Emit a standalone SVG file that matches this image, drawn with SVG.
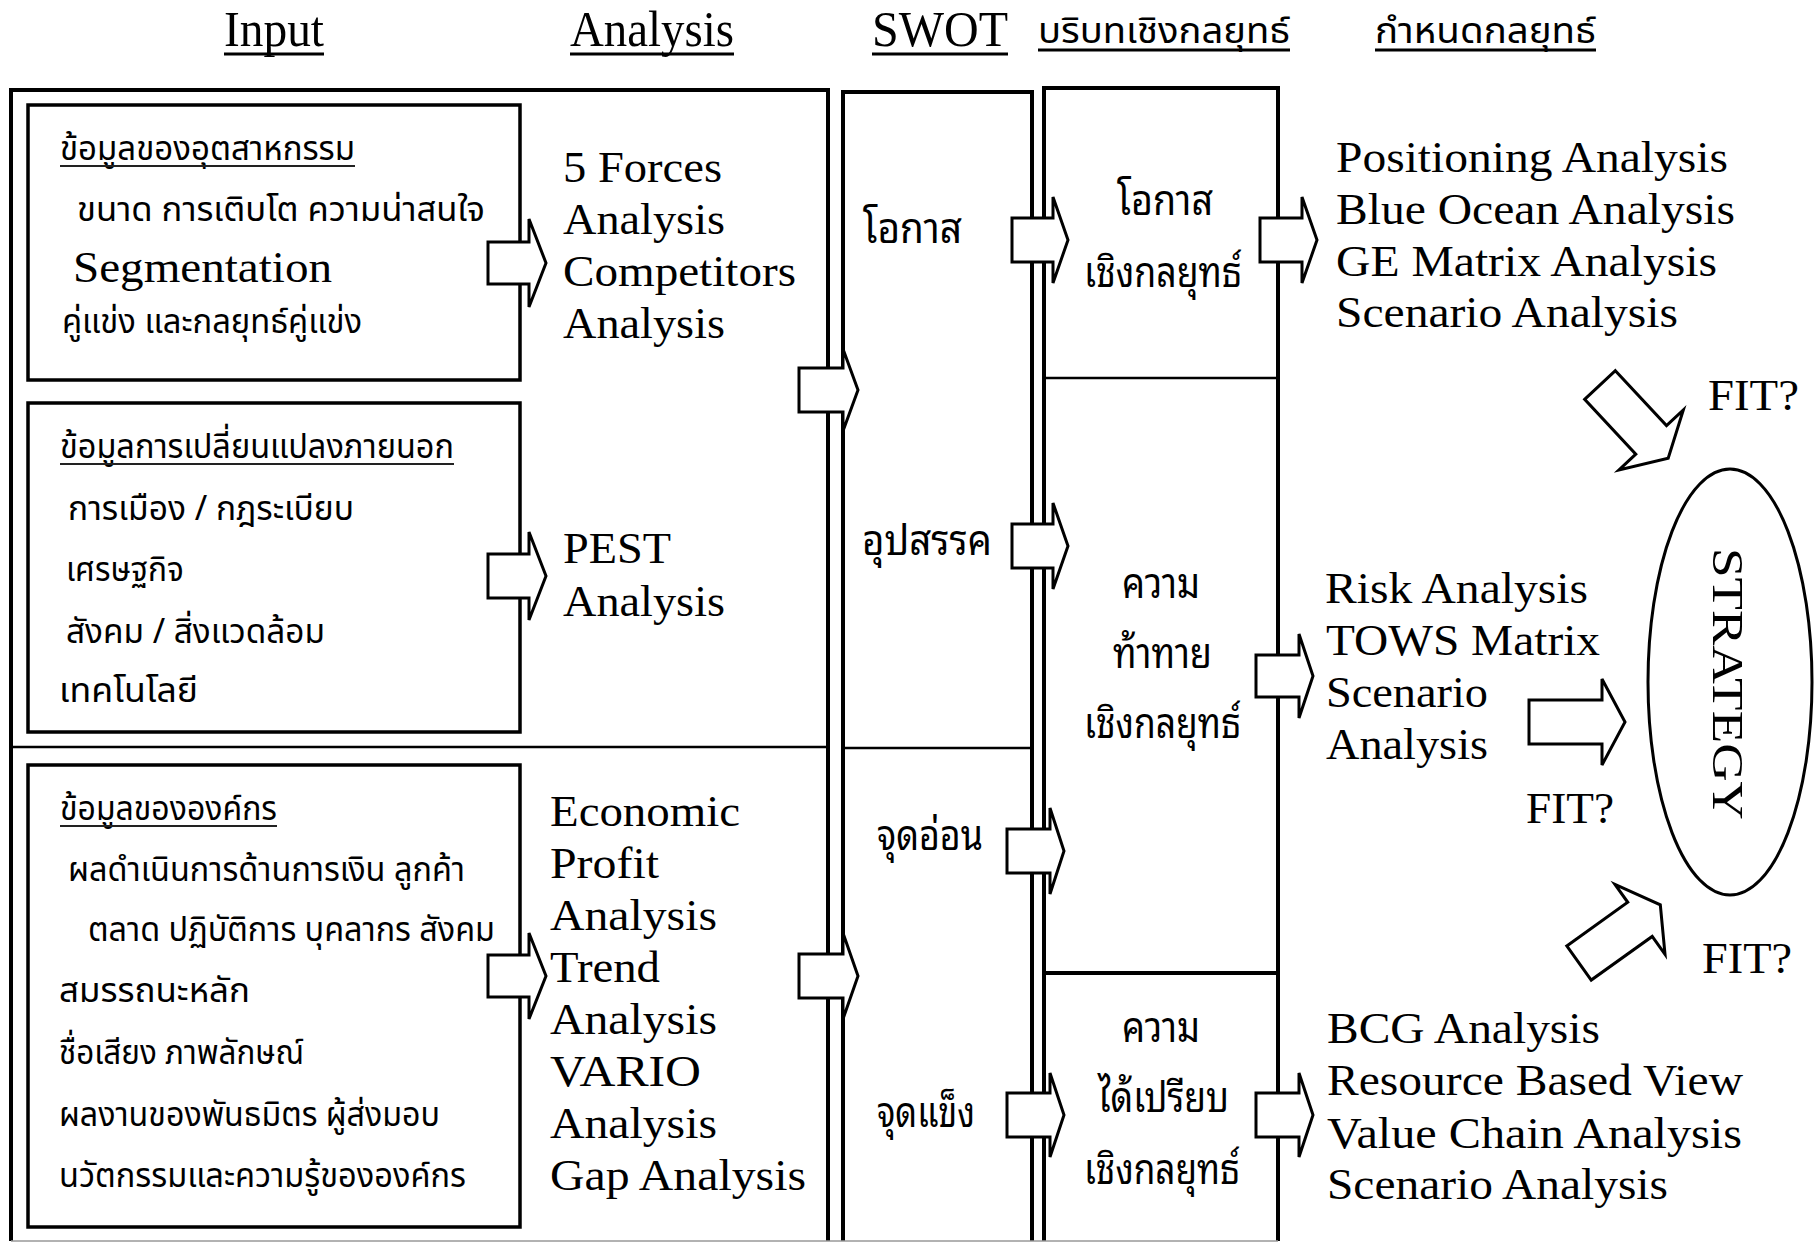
<svg xmlns="http://www.w3.org/2000/svg" width="1816" height="1243" viewBox="0 0 1816 1243">
  <style>
    .frame { fill: none; stroke: #000; stroke-width: 4; }
    .thin { fill: none; stroke: #000; stroke-width: 2.5; }
    .box { fill: none; stroke: #000; stroke-width: 3.5; }
    .arrow { fill: #fff; stroke: #000; stroke-width: 3; stroke-linejoin: miter; }
    .ul { stroke: #000; stroke-width: 3; }
    .ul2 { stroke: #222; stroke-width: 2; }
    .en { font-family: "Liberation Serif", "Times New Roman", serif; font-size: 44px; fill: #000; }
    .hd { font-family: "Liberation Serif", "Times New Roman", serif; font-size: 50px; fill: #000; }
    .th { font-family: "Noto Sans Thai", "Noto Serif Thai", "Loma", "Garuda", "Norasi", "Liberation Serif", serif; font-size: 34px; fill: #000; }
    .thh { font-family: "Noto Sans Thai", "Noto Serif Thai", "Loma", "Garuda", "Norasi", "Liberation Serif", serif; font-size: 36px; fill: #000; }
    .thl { font-family: "Noto Sans Thai Looped", "Noto Sans Thai", "Loma", "Garuda", "Liberation Serif", serif; font-size: 42px; fill: #000; }
  </style>

  <rect x="0" y="0" width="1816" height="1243" fill="#fff"/>

  <!-- column headings -->
  <g id="headings">
    <text class="hd" x="224" y="46" textLength="100" lengthAdjust="spacingAndGlyphs">Input</text>
    <line class="ul" x1="224" y1="54" x2="324" y2="54"/>
    <text class="hd" x="570" y="46" textLength="164" lengthAdjust="spacingAndGlyphs">Analysis</text>
    <line class="ul" x1="570" y1="54" x2="734" y2="54"/>
    <text class="hd" x="872" y="46" textLength="136" lengthAdjust="spacingAndGlyphs">SWOT</text>
    <line class="ul" x1="872" y1="54" x2="1008" y2="54"/>
    <text class="thh" x="1038" y="43" textLength="252" lengthAdjust="spacingAndGlyphs">บริบทเชิงกลยุทธ์</text>
    <line class="ul" x1="1038" y1="50" x2="1290" y2="50"/>
    <text class="thh" x="1375" y="43" textLength="221" lengthAdjust="spacingAndGlyphs">กำหนดกลยุทธ์</text>
    <line class="ul" x1="1375" y1="50" x2="1596" y2="50"/>
  </g>

  <!-- column frames -->
  <g id="frames">
    <path class="frame" d="M11,1241 L11,90 L828,90 L828,1241"/>
    <line class="thin" x1="11" y1="747" x2="828" y2="747"/>
    <path class="frame" d="M843,1241 L843,92 L1032,92 L1032,1241"/>
    <line class="thin" x1="843" y1="748" x2="1032" y2="748"/>
    <path class="frame" d="M1044,1241 L1044,88 L1278,88 L1278,1241"/>
    <line class="thin" x1="1044" y1="378" x2="1278" y2="378"/>
    <line class="frame" x1="1044" y1="973" x2="1278" y2="973"/>
    <line stroke="#999" stroke-width="1.5" x1="11" y1="1241" x2="1278" y2="1241"/>
  </g>

  <!-- input: industry data -->
  <g id="input-industry">
    <rect class="box" x="28" y="105" width="492" height="275"/>
    <text class="th" x="60" y="160" textLength="295" lengthAdjust="spacingAndGlyphs">ข้อมูลของอุตสาหกรรม</text>
    <line class="ul2" x1="60" y1="166" x2="355" y2="166"/>
    <text class="th" x="77" y="221" textLength="408" lengthAdjust="spacingAndGlyphs">ขนาด การเติบโต  ความน่าสนใจ</text>
    <text class="en" x="73" y="282" textLength="259" lengthAdjust="spacingAndGlyphs">Segmentation</text>
    <text class="th" x="62" y="333" textLength="300" lengthAdjust="spacingAndGlyphs">คู่แข่ง และกลยุทธ์คู่แข่ง</text>
  </g>

  <g id="analysis-industry">
    <text class="en" x="563" y="182" textLength="159" lengthAdjust="spacingAndGlyphs">5 Forces</text>
    <text class="en" x="563" y="234" textLength="162" lengthAdjust="spacingAndGlyphs">Analysis</text>
    <text class="en" x="563" y="286" textLength="233" lengthAdjust="spacingAndGlyphs">Competitors</text>
    <text class="en" x="563" y="338" textLength="162" lengthAdjust="spacingAndGlyphs">Analysis</text>
  </g>

  <!-- input: external change -->
  <g id="input-external">
    <rect class="box" x="28" y="403" width="492" height="329"/>
    <text class="th" x="60" y="458" textLength="394" lengthAdjust="spacingAndGlyphs">ข้อมูลการเปลี่ยนแปลงภายนอก</text>
    <line class="ul2" x1="60" y1="464" x2="454" y2="464"/>
    <text class="th" x="68" y="520" textLength="286" lengthAdjust="spacingAndGlyphs">การเมือง / กฎระเบียบ</text>
    <text class="th" x="66" y="581" textLength="118" lengthAdjust="spacingAndGlyphs">เศรษฐกิจ</text>
    <text class="th" x="66" y="643" textLength="259" lengthAdjust="spacingAndGlyphs">สังคม / สิ่งแวดล้อม</text>
    <text class="th" x="59" y="702" textLength="139" lengthAdjust="spacingAndGlyphs">เทคโนโลยี</text>
  </g>

  <g id="analysis-external">
    <text class="en" x="563" y="563" textLength="108" lengthAdjust="spacingAndGlyphs">PEST</text>
    <text class="en" x="563" y="616" textLength="162" lengthAdjust="spacingAndGlyphs">Analysis</text>
  </g>

  <!-- input: organisation data -->
  <g id="input-organisation">
    <rect class="box" x="28" y="765" width="492" height="462"/>
    <text class="th" x="60" y="820" textLength="217" lengthAdjust="spacingAndGlyphs">ข้อมูลขององค์กร</text>
    <line class="ul2" x1="60" y1="826" x2="277" y2="826"/>
    <text class="th" x="68" y="881" textLength="397" lengthAdjust="spacingAndGlyphs">ผลดำเนินการด้านการเงิน ลูกค้า</text>
    <text class="th" x="88" y="941" textLength="407" lengthAdjust="spacingAndGlyphs">ตลาด ปฏิบัติการ บุคลากร สังคม</text>
    <text class="th" x="59" y="1002" textLength="191" lengthAdjust="spacingAndGlyphs">สมรรถนะหลัก</text>
    <text class="th" x="59" y="1064" textLength="245" lengthAdjust="spacingAndGlyphs">ชื่อเสียง ภาพลักษณ์</text>
    <text class="th" x="59" y="1126" textLength="381" lengthAdjust="spacingAndGlyphs">ผลงานของพันธมิตร ผู้ส่งมอบ</text>
    <text class="th" x="59" y="1187" textLength="407" lengthAdjust="spacingAndGlyphs">นวัตกรรมและความรู้ขององค์กร</text>
  </g>

  <g id="analysis-organisation">
    <text class="en" x="550" y="826" textLength="190" lengthAdjust="spacingAndGlyphs">Economic</text>
    <text class="en" x="550" y="878" textLength="109" lengthAdjust="spacingAndGlyphs">Profit</text>
    <text class="en" x="550" y="930" textLength="167" lengthAdjust="spacingAndGlyphs">Analysis</text>
    <text class="en" x="550" y="982" textLength="110" lengthAdjust="spacingAndGlyphs">Trend</text>
    <text class="en" x="550" y="1034" textLength="167" lengthAdjust="spacingAndGlyphs">Analysis</text>
    <text class="en" x="550" y="1086" textLength="151" lengthAdjust="spacingAndGlyphs">VARIO</text>
    <text class="en" x="550" y="1138" textLength="167" lengthAdjust="spacingAndGlyphs">Analysis</text>
    <text class="en" x="550" y="1190" textLength="256" lengthAdjust="spacingAndGlyphs">Gap Analysis</text>
  </g>

  <!-- SWOT column -->
  <g id="swot-opportunity"><text class="thl" x="863" y="243" textLength="99" lengthAdjust="spacingAndGlyphs">โอกาส</text></g>
  <g id="swot-threat"><text class="thl" x="862" y="555" textLength="130" lengthAdjust="spacingAndGlyphs">อุปสรรค</text></g>
  <g id="swot-weakness"><text class="thl" x="877" y="850" textLength="106" lengthAdjust="spacingAndGlyphs">จุดอ่อน</text></g>
  <g id="swot-strength"><text class="thl" x="877" y="1127" textLength="98" lengthAdjust="spacingAndGlyphs">จุดแข็ง</text></g>

  <!-- strategic context column -->
  <g id="ctx-opportunity">
    <text class="thl" x="1117" y="215" textLength="96" lengthAdjust="spacingAndGlyphs">โอกาส</text>
    <text class="thl" x="1084" y="287" textLength="158" lengthAdjust="spacingAndGlyphs">เชิงกลยุทธ์</text>
  </g>
  <g id="ctx-challenge">
    <text class="thl" x="1122" y="598" textLength="78" lengthAdjust="spacingAndGlyphs">ความ</text>
    <text class="thl" x="1113" y="668" textLength="99" lengthAdjust="spacingAndGlyphs">ท้าทาย</text>
    <text class="thl" x="1084" y="738" textLength="157" lengthAdjust="spacingAndGlyphs">เชิงกลยุทธ์</text>
  </g>
  <g id="ctx-advantage">
    <text class="thl" x="1122" y="1042" textLength="78" lengthAdjust="spacingAndGlyphs">ความ</text>
    <text class="thl" x="1098" y="1112" textLength="131" lengthAdjust="spacingAndGlyphs">ได้เปรียบ</text>
    <text class="thl" x="1084" y="1184" textLength="156" lengthAdjust="spacingAndGlyphs">เชิงกลยุทธ์</text>
  </g>

  <!-- strategy tools -->
  <g id="tools-opportunity">
    <text class="en" x="1336" y="172" textLength="392" lengthAdjust="spacingAndGlyphs">Positioning Analysis</text>
    <text class="en" x="1336" y="224" textLength="399" lengthAdjust="spacingAndGlyphs">Blue Ocean Analysis</text>
    <text class="en" x="1336" y="276" textLength="381" lengthAdjust="spacingAndGlyphs">GE Matrix Analysis</text>
    <text class="en" x="1336" y="327" textLength="342" lengthAdjust="spacingAndGlyphs">Scenario Analysis</text>
  </g>
  <g id="tools-challenge">
    <text class="en" x="1325" y="603" textLength="263" lengthAdjust="spacingAndGlyphs">Risk Analysis</text>
    <text class="en" x="1326" y="655" textLength="274" lengthAdjust="spacingAndGlyphs">TOWS Matrix</text>
    <text class="en" x="1326" y="707" textLength="162" lengthAdjust="spacingAndGlyphs">Scenario</text>
    <text class="en" x="1326" y="759" textLength="162" lengthAdjust="spacingAndGlyphs">Analysis</text>
  </g>
  <g id="tools-advantage">
    <text class="en" x="1327" y="1043" textLength="273" lengthAdjust="spacingAndGlyphs">BCG Analysis</text>
    <text class="en" x="1327" y="1095" textLength="416" lengthAdjust="spacingAndGlyphs">Resource Based View</text>
    <text class="en" x="1327" y="1148" textLength="415" lengthAdjust="spacingAndGlyphs">Value Chain Analysis</text>
    <text class="en" x="1327" y="1199" textLength="341" lengthAdjust="spacingAndGlyphs">Scenario Analysis</text>
  </g>

  <!-- fit labels -->
  <g id="fit-labels">
    <text class="en" x="1708" y="410" textLength="91" lengthAdjust="spacingAndGlyphs">FIT?</text>
    <text class="en" x="1526" y="823" textLength="88" lengthAdjust="spacingAndGlyphs">FIT?</text>
    <text class="en" x="1702" y="973" textLength="90" lengthAdjust="spacingAndGlyphs">FIT?</text>
  </g>

  <!-- strategy -->
  <g id="strategy">
    <ellipse cx="1730" cy="682" rx="82" ry="213" fill="none" stroke="#000" stroke-width="3"/>
    <text class="en" font-size="57" text-anchor="middle" transform="translate(1713,684) rotate(90)" textLength="272" lengthAdjust="spacingAndGlyphs">STRATEGY</text>
  </g>

  <!-- block arrows -->
  <g id="connectors">
    <!-- input boxes to analysis -->
    <path class="arrow" d="M488,242 L529,242 L529,219 L546,263 L529,307 L529,284 L488,284 Z"/>
    <path class="arrow" d="M488,554 L529,554 L529,532 L546,576 L529,620 L529,598 L488,598 Z"/>
    <path class="arrow" d="M488,955 L529,955 L529,933 L546,976 L529,1019 L529,997 L488,997 Z"/>
    <!-- analysis frame to SWOT -->
    <path class="arrow" d="M799,368 L843,368 L843,349 L858,390 L843,431 L843,412 L799,412 Z"/>
    <path class="arrow" d="M799,954 L843,954 L843,933 L858,976 L843,1019 L843,998 L799,998 Z"/>
    <!-- SWOT to strategic context -->
    <path class="arrow" d="M1012,218 L1053,218 L1053,197 L1068,240 L1053,283 L1053,262 L1012,262 Z"/>
    <path class="arrow" d="M1012,524 L1053,524 L1053,503 L1068,546 L1053,589 L1053,568 L1012,568 Z"/>
    <path class="arrow" d="M1007,829 L1050,829 L1050,808 L1064,851 L1050,894 L1050,873 L1007,873 Z"/>
    <path class="arrow" d="M1007,1093 L1050,1093 L1050,1073 L1064,1115 L1050,1157 L1050,1137 L1007,1137 Z"/>
    <!-- strategic context to tools -->
    <path class="arrow" d="M1260,218 L1302,218 L1302,197 L1317,240 L1302,283 L1302,262 L1260,262 Z"/>
    <path class="arrow" d="M1256,655 L1299,655 L1299,634 L1313,676 L1299,718 L1299,697 L1256,697 Z"/>
    <path class="arrow" d="M1256,1093 L1299,1093 L1299,1073 L1313,1115 L1299,1157 L1299,1137 L1256,1137 Z"/>
    <!-- tools to strategy -->
    <path class="arrow" d="M1529,700 L1602,700 L1602,679 L1625,722 L1602,765 L1602,744 L1529,744 Z"/>
    <path class="arrow" transform="translate(1600,385) rotate(47)" d="M0,-21 L75,-21 L75,-44 L100,0 L75,44 L75,21 L0,21 Z"/>
    <path class="arrow" transform="translate(1579,963) rotate(-35.6)" d="M0,-21 L75,-21 L75,-43 L100,0 L75,43 L75,21 L0,21 Z"/>
  </g>
</svg>
